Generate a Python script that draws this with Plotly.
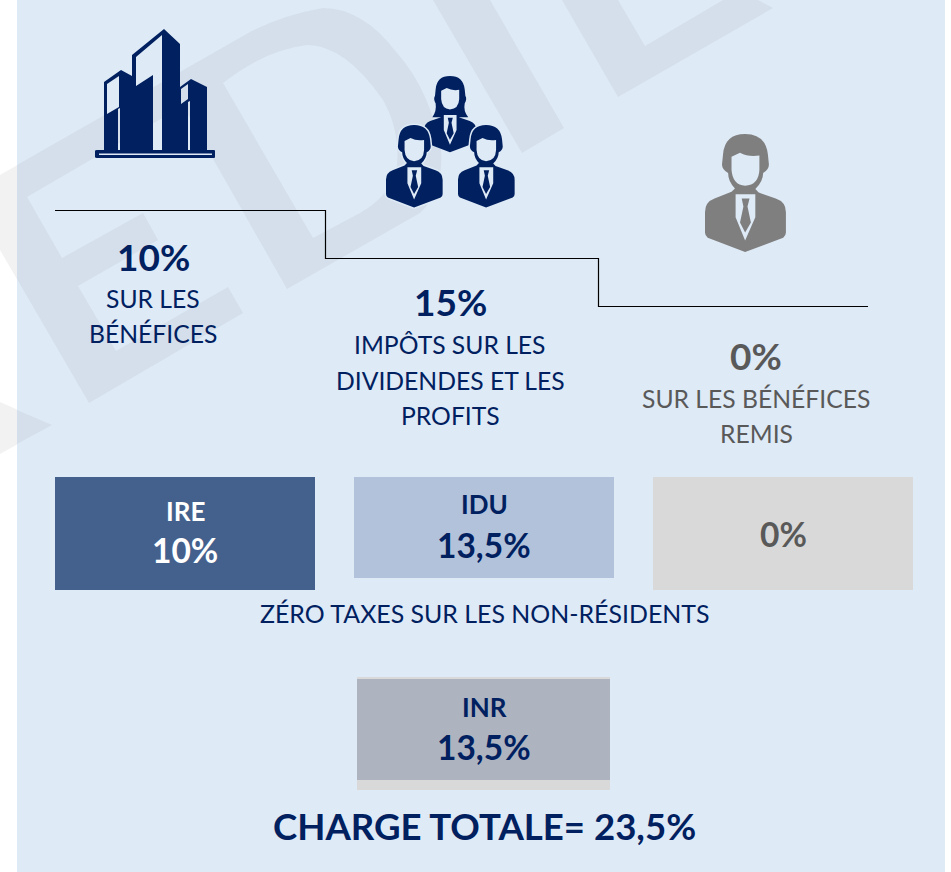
import re
import plotly.graph_objects as go

# ---- content -------------------------------------------------------------
STEP_RATES = ["10%", "15%", "0%"]
STEP_LINES = [["SUR LES", "BÉNÉFICES"],
              ["IMPÔTS SUR LES", "DIVIDENDES ET LES", "PROFITS"],
              ["SUR LES BÉNÉFICES", "REMIS"]]
BOX_LABELS = ["IRE", "IDU", "", "INR"]
BOX_VALUES = ["10%", "13,5%", "0%", "13,5%"]
MIDDLE_NOTE = "ZÉRO TAXES SUR LES NON-RÉSIDENTS"
TOTAL_NOTE = "CHARGE TOTALE= 23,5%"
STEP_LINE_X = [55, 325.5, 325.5, 598.5, 598.5, 868]
STEP_LINE_Y = [210.5, 210.5, 258.5, 258.5, 306.5, 306.5]

# ---- style ---------------------------------------------------------------
W, H = 951, 872
FONT = "Lato"
NAVY = "#002060"
GREY_TEXT = "#595959"
GREY_ICON = "#7f7f7f"
PANEL = "#deeaf6"
MARK = "#d4dfeb"
MARK_OUT = "#f2f2f2"

shapes = []
annotations = []


def poly(points, close=True):
    return "M " + " L ".join(f"{x},{y}" for x, y in points) + (" Z" if close else "")


def add_path(path, fill, line=None, lw=0):
    shapes.append(dict(type="path", path=path, fillcolor=fill, xref="x", yref="y",
                       line=dict(color=line or fill, width=lw), layer="below"))


def rect(x0, y0, x1, y1, fill):
    shapes.append(dict(type="rect", x0=x0, x1=x1, y0=y0, y1=y1, xref="x", yref="y",
                       fillcolor=fill, line=dict(width=0), layer="below"))


def text(s, x, y, size, color=NAVY, bold=False):
    annotations.append(dict(text=f"<b>{s}</b>" if bold else s, x=x, y=y, xref="x", yref="y",
                            xanchor="center", yanchor="middle", showarrow=False,
                            font=dict(family=FONT, size=size, color=color)))


# ---- watermark -----------------------------------------------------------
D_OUT = ("Q 283,15 323,8 Q 363,8 397,53 Q 430,90 441,150 Q 444,190 420,213 "
         "L 287,289 L 183,106 L 27,197 L 62,258 L 143,213 L 158,240 L 78,286 "
         "L 116,351 L 228,287 L 243,313 L 89,403 ")
D_HOLE = ("M 223,83 Q 265,50 307,45 Q 345,45 383,100 Q 400,130 397,165 Q 392,195 360,213 "
          "L 313,238 Z")
I_SHAPE = poly([(433, 0), (522, 153), (564, 128), (490, 0)])
L_SHAPE = poly([(562, 0), (618, 97), (773, 8), (758, 0), (723, 0), (645, 46), (618, 0)])

rect(0, 0, W, H, "#ffffff")
add_path("M 0,175 L 250,32 " + D_OUT + "L 0,250 Z " + D_HOLE, MARK_OUT)
add_path(poly([(0, 402), (52, 425), (0, 454)]), MARK_OUT)
rect(17, 0, 945, H, PANEL)
add_path("M 17,165 L 250,32 " + D_OUT + "L 17,279 Z " + D_HOLE, MARK)
add_path(poly([(17, 410), (52, 425), (17, 444)]), MARK)
add_path(I_SHAPE, MARK)
add_path(L_SHAPE, MARK)

# ---- building icon -------------------------------------------------------
building = [
    poly([(104, 150), (104, 82), (121, 70), (132, 76), (132, 55), (164, 29), (180, 44),
          (180, 87), (191, 79), (207, 87), (207, 150)]),
    poly([(107, 84), (119, 76), (119, 107), (107, 114)]),
    poly([(118, 109), (120, 108), (120, 150), (118, 150)]),
    poly([(136, 57), (162, 35), (162, 150), (153, 150), (153, 75), (136, 86)]),
    poly([(181, 89), (188, 84), (188, 99), (181, 104)]),
    poly([(188, 102), (190, 101), (190, 150), (188, 150)]),
]
add_path(" ".join(building), NAVY)
base = ("M 97,150 L 214,150 Q 215,150 215,151 L 215,157 Q 215,158 214,158 L 97,158 Q 95,158 95,157 "
        "L 95,151 Q 95,150 97,150 Z " + poly([(99, 153.5), (212, 153.5), (212, 155), (99, 155)]))
add_path(base, NAVY)

# ---- person icons (outline in a 330x420 design box) ----------------------
BODY = ("M 165,392 L 55,350 Q 47,345 47,335 L 47,275 Q 47,245 75,235 L 125,215 L 135,205 "
        "Q 115,185 115,160 Q 97,150 97,135 L 100,105 Q 105,45 165,45 Q 225,45 232,105 L 235,135 "
        "Q 235,150 218,160 Q 218,185 195,207 L 205,217 L 255,235 Q 285,245 285,275 L 285,335 "
        "Q 285,345 277,350 Z")
LONG_HAIR = ("M 165,392 L 55,350 Q 47,345 47,335 L 47,290 Q 47,262 75,250 L 125,232 L 85,232 "
             "Q 105,205 100,170 Q 88,150 97,135 L 100,105 Q 105,45 165,45 Q 225,45 232,105 L 235,135 "
             "Q 244,150 232,170 Q 225,205 248,232 L 205,232 L 255,250 Q 285,262 285,290 L 285,335 "
             "Q 285,345 277,350 Z")
FACE = "M 125,112 L 150,100 Q 175,113 207,108 L 207,150 Q 205,195 165,197 Q 128,195 125,150 Z"
SHIRT = "M 137,222 L 195,222 L 195,290 L 165,358 L 137,290 Z"
TIE = "M 155,235 L 178,235 L 172,258 L 182,305 L 165,335 L 150,305 L 160,258 Z"


def place(path, ox, oy, k):
    def sub(m):
        x, y = float(m.group(1)), float(m.group(2))
        return f"{ox + (x - 47) * k:.2f},{oy + (y - 45) * k:.2f}"
    return re.sub(r"(-?[\d.]+),(-?[\d.]+)", sub, path)


def person(ox, oy, k, fill, hair=False, halo=None):
    outline = LONG_HAIR if hair else BODY
    if halo:
        add_path(place(BODY, ox, oy, k), halo, halo, 3)
    add_path(place(" ".join([outline, FACE, SHIRT, TIE]), ox, oy, k), fill)


person(424, 76, 0.22, NAVY, hair=True)
person(386, 125, 0.238, NAVY, halo=PANEL)
person(458, 125, 0.238, NAVY, halo=PANEL)
person(705, 134, 0.34, GREY_ICON)

# ---- boxes ---------------------------------------------------------------
rect(55, 477, 315, 590, "#44618d")
rect(354, 477, 614, 578, "#b1c2da")
rect(653, 477, 913, 590, "#d9d9d9")
rect(357, 677, 610, 790, "#d9d9d9")
rect(357, 679, 610, 780, "#adb4c0")

# ---- texts ---------------------------------------------------------------
STEP_CX = [153, 450, 756]
STEP_RATE_Y = [256, 301, 355]
STEP_LINE_YS = [[298, 333], [344, 380, 415], [398, 433]]
STEP_COLORS = [NAVY, NAVY, GREY_TEXT]
for i in range(3):
    text(STEP_RATES[i], STEP_CX[i], STEP_RATE_Y[i], 37, STEP_COLORS[i], True)
    for s, y in zip(STEP_LINES[i], STEP_LINE_YS[i]):
        text(s, STEP_CX[i], y, 24.7, STEP_COLORS[i])

BOX_CX = [185, 484, 783, 484]
BOX_LABEL_Y = [511, 504, None, 707]
BOX_VALUE_Y = [550, 545, 534, 747]
BOX_COLORS = ["#ffffff", NAVY, GREY_TEXT, NAVY]
for i in range(4):
    if BOX_LABELS[i]:
        text(BOX_LABELS[i], BOX_CX[i], BOX_LABEL_Y[i], 26, BOX_COLORS[i], True)
    text(BOX_VALUES[i], BOX_CX[i], BOX_VALUE_Y[i], 33.5, BOX_COLORS[i], True)

text(MIDDLE_NOTE, 484, 613, 24.9)
text(TOTAL_NOTE, 484, 826, 36.6, NAVY, True)

# ---- figure --------------------------------------------------------------
fig = go.Figure()
fig.add_trace(go.Scatter(x=STEP_LINE_X, y=STEP_LINE_Y, mode="lines",
                         line=dict(color="#000000", width=1.2), hoverinfo="skip", showlegend=False))
fig.update_layout(
    width=W, height=H, margin=dict(l=0, r=0, t=0, b=0), showlegend=False,
    paper_bgcolor="#ffffff", plot_bgcolor="#ffffff",
    xaxis=dict(range=[0, W], visible=False, fixedrange=True),
    yaxis=dict(range=[H, 0], visible=False, fixedrange=True),
    shapes=shapes, annotations=annotations,
)
fig.write_html("out.html", config={"displayModeBar": False},
               post_script="document.body.style.margin='0';document.documentElement.style.overflow='hidden';")
